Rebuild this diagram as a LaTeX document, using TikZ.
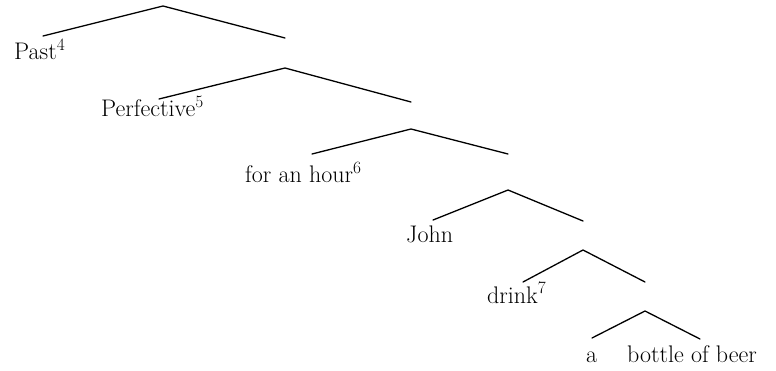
\documentclass[tikz,border=0pt]{standalone}
\usepackage{fontspec}
\begin{document}
\begin{tikzpicture}[x=1pt,y=-1pt,
  branch/.style={line width=1.3pt, line cap=round, line join=round},
  word/.style={anchor=base west, inner sep=0pt, font=\fontsize{24}{28}\selectfont}]
\useasboundingbox (0,0) rectangle (776,371);
% apexes
\coordinate (n1) at (163,6);
\coordinate (n2) at (285,68);
\coordinate (n3) at (411,129);
\coordinate (n4) at (508,190);
\coordinate (n5) at (583,250);
\coordinate (n6) at (645,311);
% left leaf ends
\coordinate (l1) at (43,36);
\coordinate (l2) at (159,99);
\coordinate (l3) at (312,154);
\coordinate (l4) at (433,220);
\coordinate (l5) at (523,282);
\coordinate (l6) at (592,338);
% right leaf ends
\coordinate (r1) at (285,38);
\coordinate (r2) at (411,102);
\coordinate (r3) at (508,154);
\coordinate (r4) at (583,221);
\coordinate (r5) at (645,282);
\coordinate (r6) at (700,339);
% words
\node[word] (w1) at (14,60) {Past$^4$};
\node[word] (w2) at (101,117) {Perfective$^5$};
\node[word] (w3) at (245,183) {for an hour$^6$};
\node[word] (w4) at (406,243) {John};
\node[word] (w5) at (487,303) {drink$^7$};
\node[word] (w6) at (586,362) {a};
\node[word] (w7) at (627,362) {bottle of beer};
% branches
\draw[branch] (l1) -- (n1) -- (r1);
\draw[branch] (l2) -- (n2) -- (r2);
\draw[branch] (l3) -- (n3) -- (r3);
\draw[branch] (l4) -- (n4) -- (r4);
\draw[branch] (l5) -- (n5) -- (r5);
\draw[branch] (l6) -- (n6) -- (r6);
\end{tikzpicture}
\end{document}
